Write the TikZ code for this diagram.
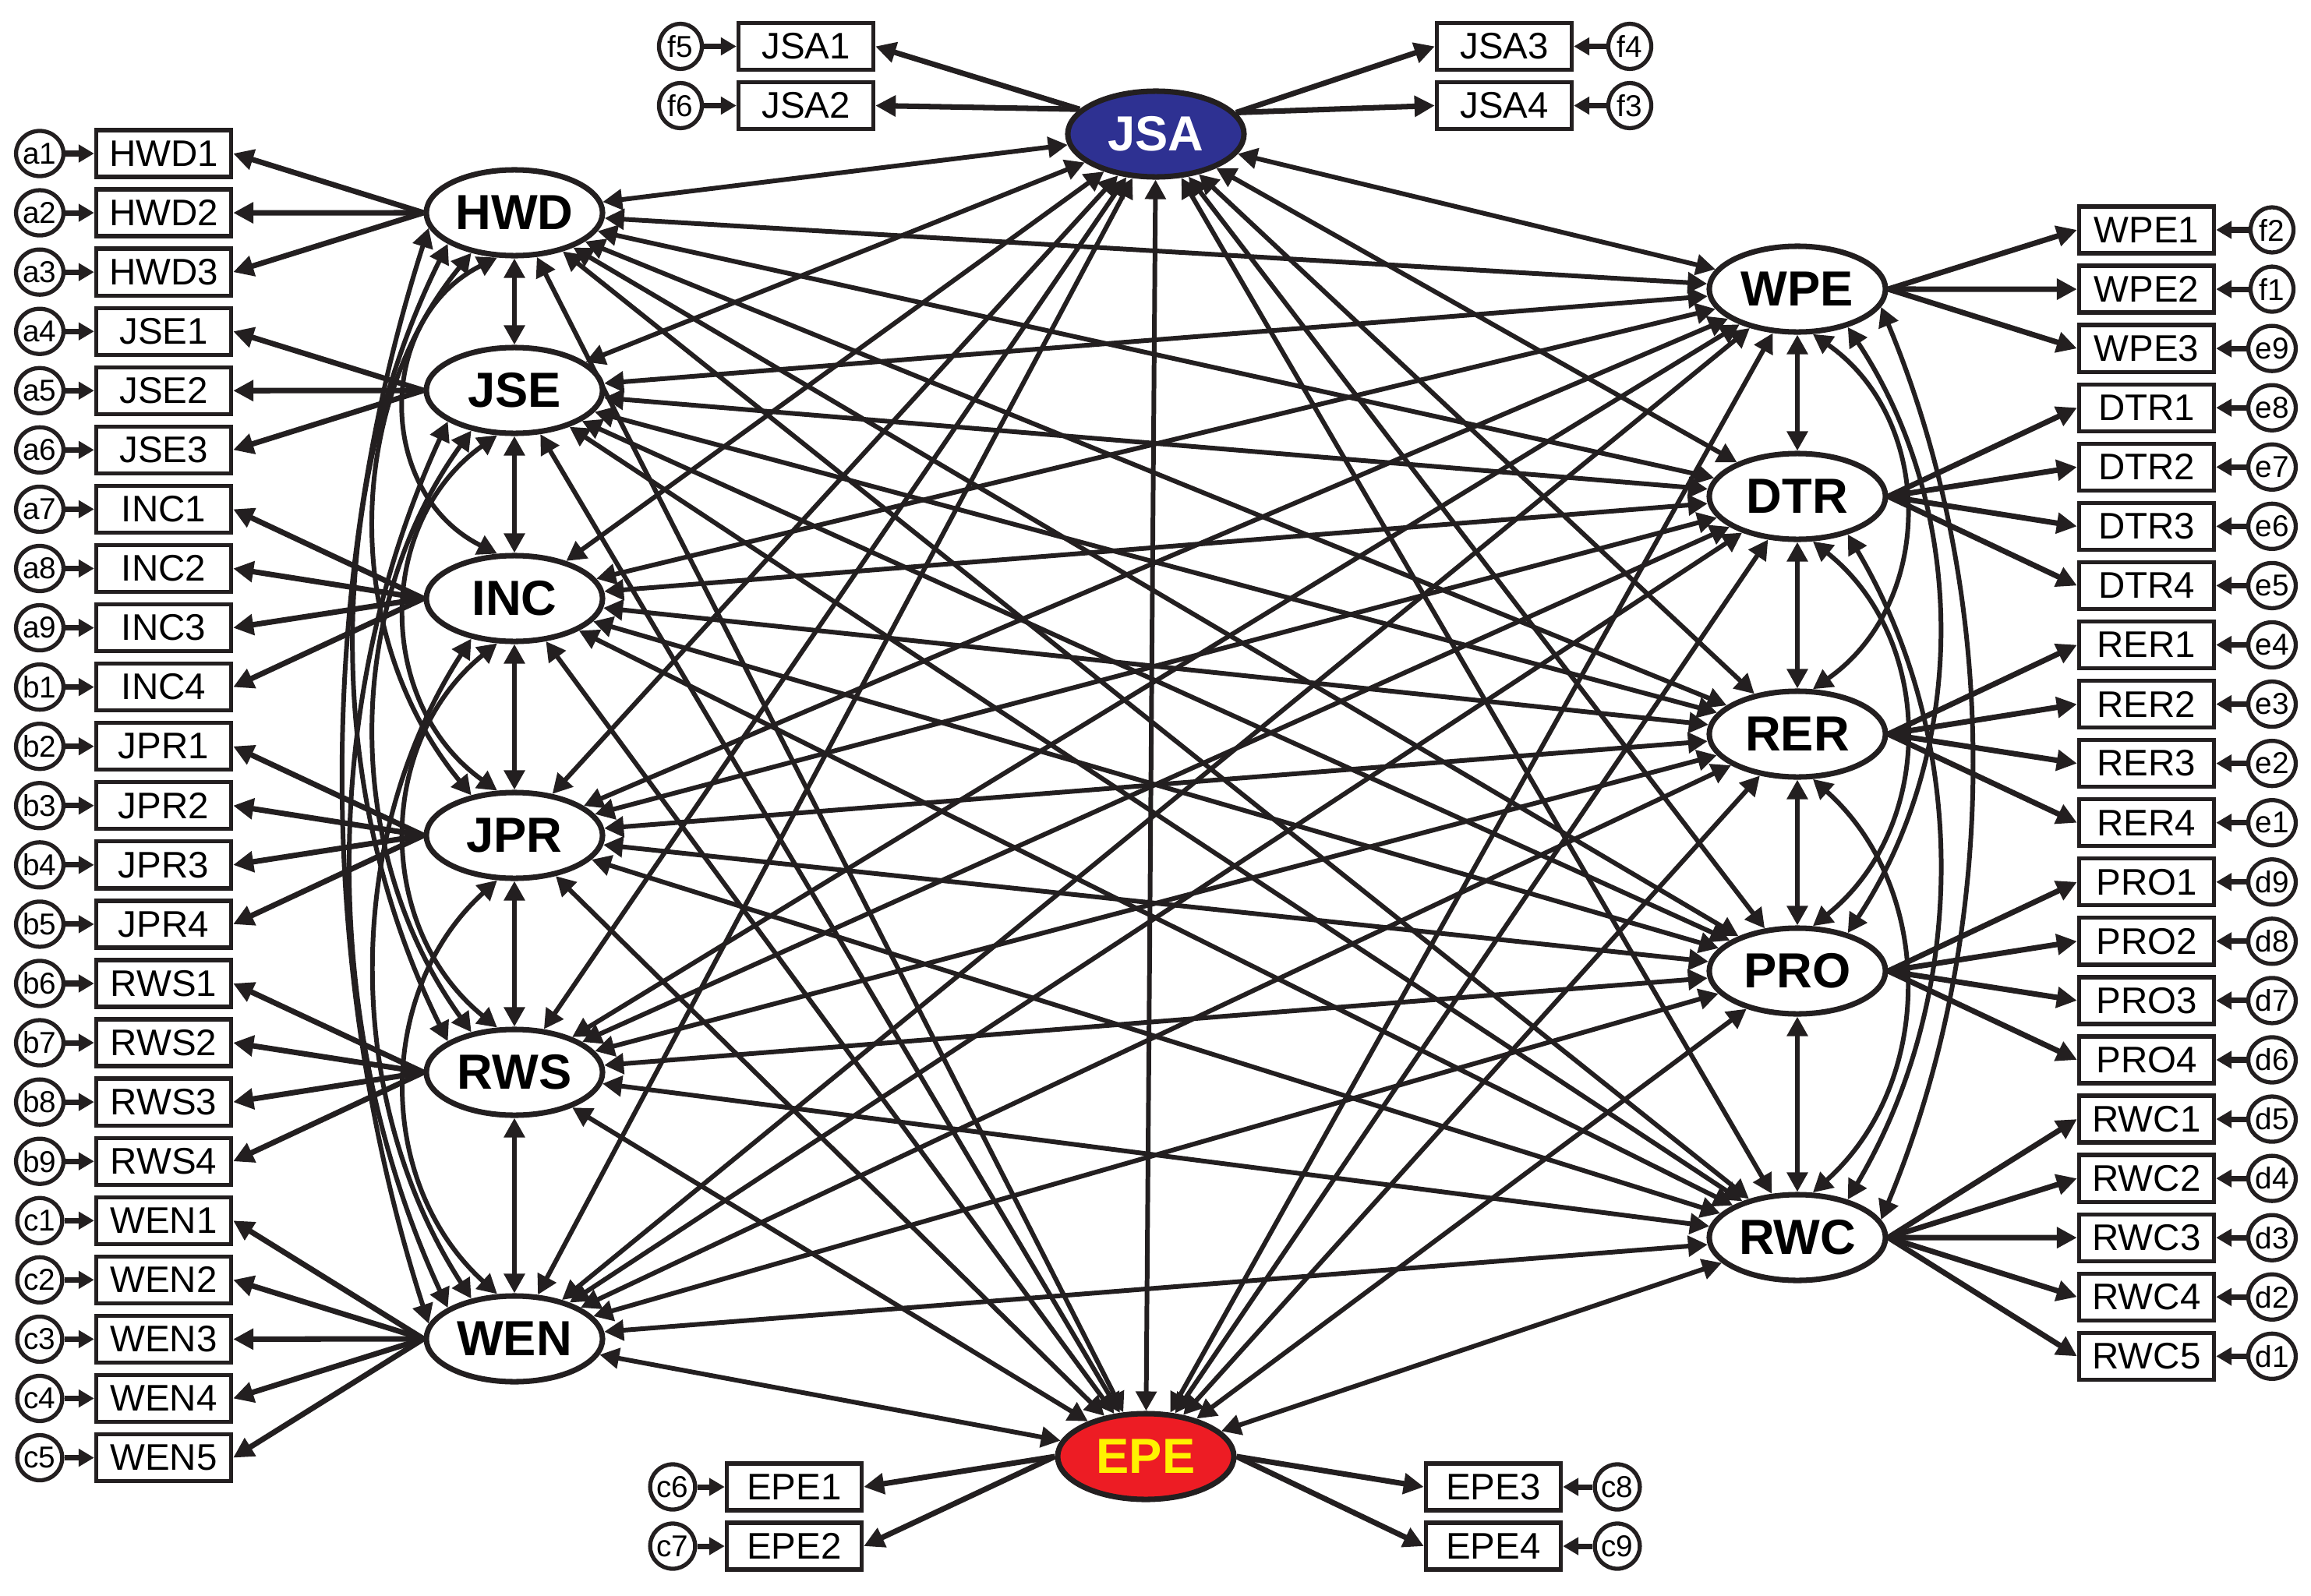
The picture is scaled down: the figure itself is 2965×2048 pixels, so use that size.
\documentclass[tikz,border=0pt]{standalone}
\usepackage{fontspec}
\setmainfont{Liberation Sans}
\usepackage{xcolor}
\usepackage{tikz}
\usetikzlibrary{arrows.meta,shapes.geometric}
\definecolor{inkx}{HTML}{231F20}
\definecolor{bluex}{HTML}{2E3192}
\definecolor{redx}{HTML}{ED1C24}
\definecolor{yelx}{HTML}{FFF200}
\tikzset{
  lat/.style={ellipse,draw=inkx,line width=2pt,fill=white,minimum width=2.26cm,minimum height=1.1cm,inner sep=0pt,font=\fontsize{18}{18}\selectfont\bfseries},
  ind/.style={draw=inkx,line width=1.5pt,fill=white,minimum width=1.73cm,minimum height=0.6cm,inner sep=0pt,font=\fontsize{13.5}{14}\selectfont},
  err/.style={ellipse,draw=inkx,line width=1.5pt,fill=white,minimum width=0.55cm,minimum height=0.58cm,inner sep=0pt,font=\fontsize{11}{11}\selectfont},
  cov/.style={{Triangle[length=2.5mm,width=2.6mm]}-{Triangle[length=2.5mm,width=2.6mm]},line width=1.7pt,inkx},
  ld/.style={-{Triangle[length=2.6mm,width=2.6mm]},line width=2pt,inkx},
  ea/.style={-{Triangle[length=2mm,width=2.2mm]},line width=2pt,inkx}
}
\begin{document}
\begin{tikzpicture}[x=0.01cm,y=-0.01cm]
\useasboundingbox (0,0) rectangle (2965,2048);
% latent factors
\node[lat] (HWD) at (660,273) {HWD};
\node[lat] (JSE) at (660,501) {JSE};
\node[lat] (INC) at (660,768) {INC};
\node[lat] (JPR) at (660,1072) {JPR};
\node[lat] (RWS) at (660,1376) {RWS};
\node[lat] (WEN) at (660,1718) {WEN};
\node[lat] (WPE) at (2306,371) {WPE};
\node[lat] (DTR) at (2306,637) {DTR};
\node[lat] (RER) at (2306,942) {RER};
\node[lat] (PRO) at (2306,1246) {PRO};
\node[lat] (RWC) at (2306,1588) {RWC};
\node[lat,fill=bluex,text=white] (JSA) at (1483,172) {JSA};
\node[lat,fill=redx,text=yelx] (EPE) at (1470,1869) {EPE};
% indicators, left
\foreach \nm/\er [count=\i from 0] in {HWD1/a1,HWD2/a2,HWD3/a3,JSE1/a4,JSE2/a5,JSE3/a6,INC1/a7,INC2/a8,INC3/a9,INC4/b1,JPR1/b2,JPR2/b3,JPR3/b4,JPR4/b5,RWS1/b6,RWS2/b7,RWS3/b8,RWS4/b9,WEN1/c1,WEN2/c2,WEN3/c3,WEN4/c4,WEN5/c5}{
  \node[ind] (\nm) at (210,{197+76.07*\i}) {\nm};
  \node[err] (\er) at (51,{197+76.07*\i}) {\er};
  \draw[ea] (\er) -- (\nm);
}
% indicators, right
\foreach \nm/\er [count=\i from 0] in {WPE1/f2,WPE2/f1,WPE3/e9,DTR1/e8,DTR2/e7,DTR3/e6,DTR4/e5,RER1/e4,RER2/e3,RER3/e2,RER4/e1,PRO1/d9,PRO2/d8,PRO3/d7,PRO4/d6,RWC1/d5,RWC2/d4,RWC3/d3,RWC4/d2,RWC5/d1}{
  \node[ind] (\nm) at (2754,{295+76.07*\i}) {\nm};
  \node[err] (\er) at (2915,{295+76.07*\i}) {\er};
  \draw[ea] (\er) -- (\nm);
}
% indicators, top and bottom
\foreach \nm/\er/\x/\ex/\y in {JSA1/f5/1034/873/59.5,JSA2/f6/1034/873/135.5,JSA3/f4/1930/2091/59.5,JSA4/f3/1930/2091/135.5,EPE1/c6/1019/863/1908,EPE2/c7/1019/863/1984,EPE3/c8/1916/2075/1908,EPE4/c9/1916/2075/1984}{
  \node[ind] (\nm) at (\x,\y) {\nm};
  \node[err] (\er) at (\ex,\y) {\er};
  \draw[ea] (\er) -- (\nm);
}
% loadings
\foreach \l/\n in {HWD/3,JSE/3,INC/4,JPR/4,RWS/4,WEN/5}
  \foreach \k in {1,...,\n}
    \draw[ld] (\l.west) -- (\l\k.east);
\foreach \l/\n in {WPE/3,DTR/4,RER/4,PRO/4,RWC/5}
  \foreach \k in {1,...,\n}
    \draw[ld] (\l.east) -- (\l\k.west);
\foreach \k/\an/\bn in {1/162/east,2/162/east,3/15/west,4/15/west}
  \draw[ld] (JSA.\an) -- (JSA\k.\bn);
\foreach \k/\an/\bn in {1/west/east,2/west/east,3/east/west,4/east/west}
  \draw[ld] (EPE.\an) -- (EPE\k.\bn);
% covariances
\foreach \a/\b in {HWD/JSE,JSE/INC,INC/JPR,JPR/RWS,RWS/WEN,WPE/DTR,DTR/RER,RER/PRO,PRO/RWC,JSA/EPE}
  \draw[cov] (\a) -- (\b);
\foreach \a/\sa/\b/\eb/\bd/\lo in {HWD/-111/INC/111/63.5/1.18,JSE/-111/JPR/111/54.6/1.08,INC/-111/RWS/111/51/1.05,JPR/-111/WEN/111/47.9/1.02,HWD/-137/JPR/137/39.4/0.96,JSE/-137/RWS/137/35.8/0.94,INC/-137/WEN/137/32.9/0.92,HWD/-155/RWS/155/26.4/0.9,JSE/-155/WEN/155/24.8/0.89,HWD/-170/WEN/170/17.8/0.87}
  \draw[cov] (\a.\sa) to[bend right=\bd,looseness=\lo] (\b.\eb);
\foreach \a/\sa/\b/\eb/\bd/\lo in {WPE/-71/RER/71/55/1.08,DTR/-71/PRO/71/51.4/1.05,RER/-71/RWC/71/48.2/1.02,WPE/-37/PRO/37/33.4/0.93,DTR/-37/RWC/37/30.6/0.92,WPE/-12/RWC/12/22.6/0.88}
  \draw[cov] (\a.\sa) to[bend left=\bd,looseness=\lo] (\b.\eb);
\foreach \a in {HWD,JSE,INC,JPR,RWS,WEN}
  \foreach \b in {WPE,DTR,RER,PRO,RWC}
    \draw[cov] (\a) -- (\b);
\foreach \b in {HWD,JSE,INC,JPR,RWS,WEN,WPE,DTR,RER,PRO,RWC}{
  \draw[cov] (JSA) -- (\b);
  \draw[cov] (EPE) -- (\b);
}
\end{tikzpicture}
\end{document}
